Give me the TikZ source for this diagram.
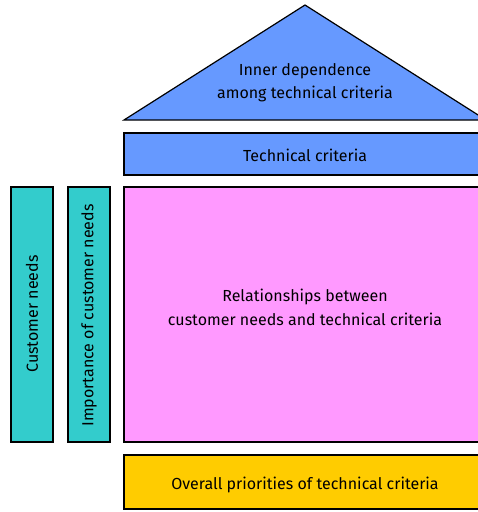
\documentclass[tikz,border=0pt]{standalone}
\usepackage{fontspec}
\setmainfont{Fira Sans}
\definecolor{roofblue}{HTML}{6699FF}
\definecolor{relpink}{HTML}{FF99FF}
\definecolor{needteal}{HTML}{33CCCC}
\definecolor{prioyellow}{HTML}{FFCC00}
\begin{document}
\begin{tikzpicture}[x=1pt,y=-1pt,
  part/.style={draw=black, line width=1.2pt, inner sep=0pt},
  caption/.style={align=center, inner sep=0pt, font=\fontsize{16}{23}\selectfont}]
\useasboundingbox (0,0) rectangle (478,512);
\clip (0,0) rectangle (478,512);
% roof: correlations among the technical criteria
\draw[draw=black, line width=1.2pt, fill=roofblue, line join=miter]
  (124,120) coordinate (rl) -- (305,5) coordinate (apex) -- (486,120) coordinate (rr) -- cycle;
\node[caption] (roof) at (305,83) {Inner dependence\\among technical criteria};
% technical criteria bar
\node[part, fill=roofblue, minimum width=362pt, minimum height=42pt] (tech) at (305,154) {};
\node[caption] (techtext) at (305,155) {Technical criteria};
% relationship matrix
\node[part, fill=relpink, minimum width=362pt, minimum height=255pt] (rel) at (305,314.5) {};
\node[caption, font=\fontsize{16}{24}\selectfont] (reltext) at (305,307.5)
  {Relationships between\\customer needs and technical criteria};
% customer needs and their weights
\node[part, fill=needteal, minimum width=42pt, minimum height=255pt] (needs) at (32,314.5) {};
\node[caption, rotate=90] (needstext) at (32,314) {Customer needs};
\node[part, fill=needteal, minimum width=42pt, minimum height=255pt] (imp) at (89,314.5) {};
\node[caption, rotate=90] (imptext) at (89,315.5) {Importance of customer needs};
% overall priorities
\node[part, fill=prioyellow, minimum width=362pt, minimum height=54pt] (prio) at (305,482) {};
\node[caption] (priotext) at (305,484.5) {Overall priorities of technical criteria};
\end{tikzpicture}
\end{document}
